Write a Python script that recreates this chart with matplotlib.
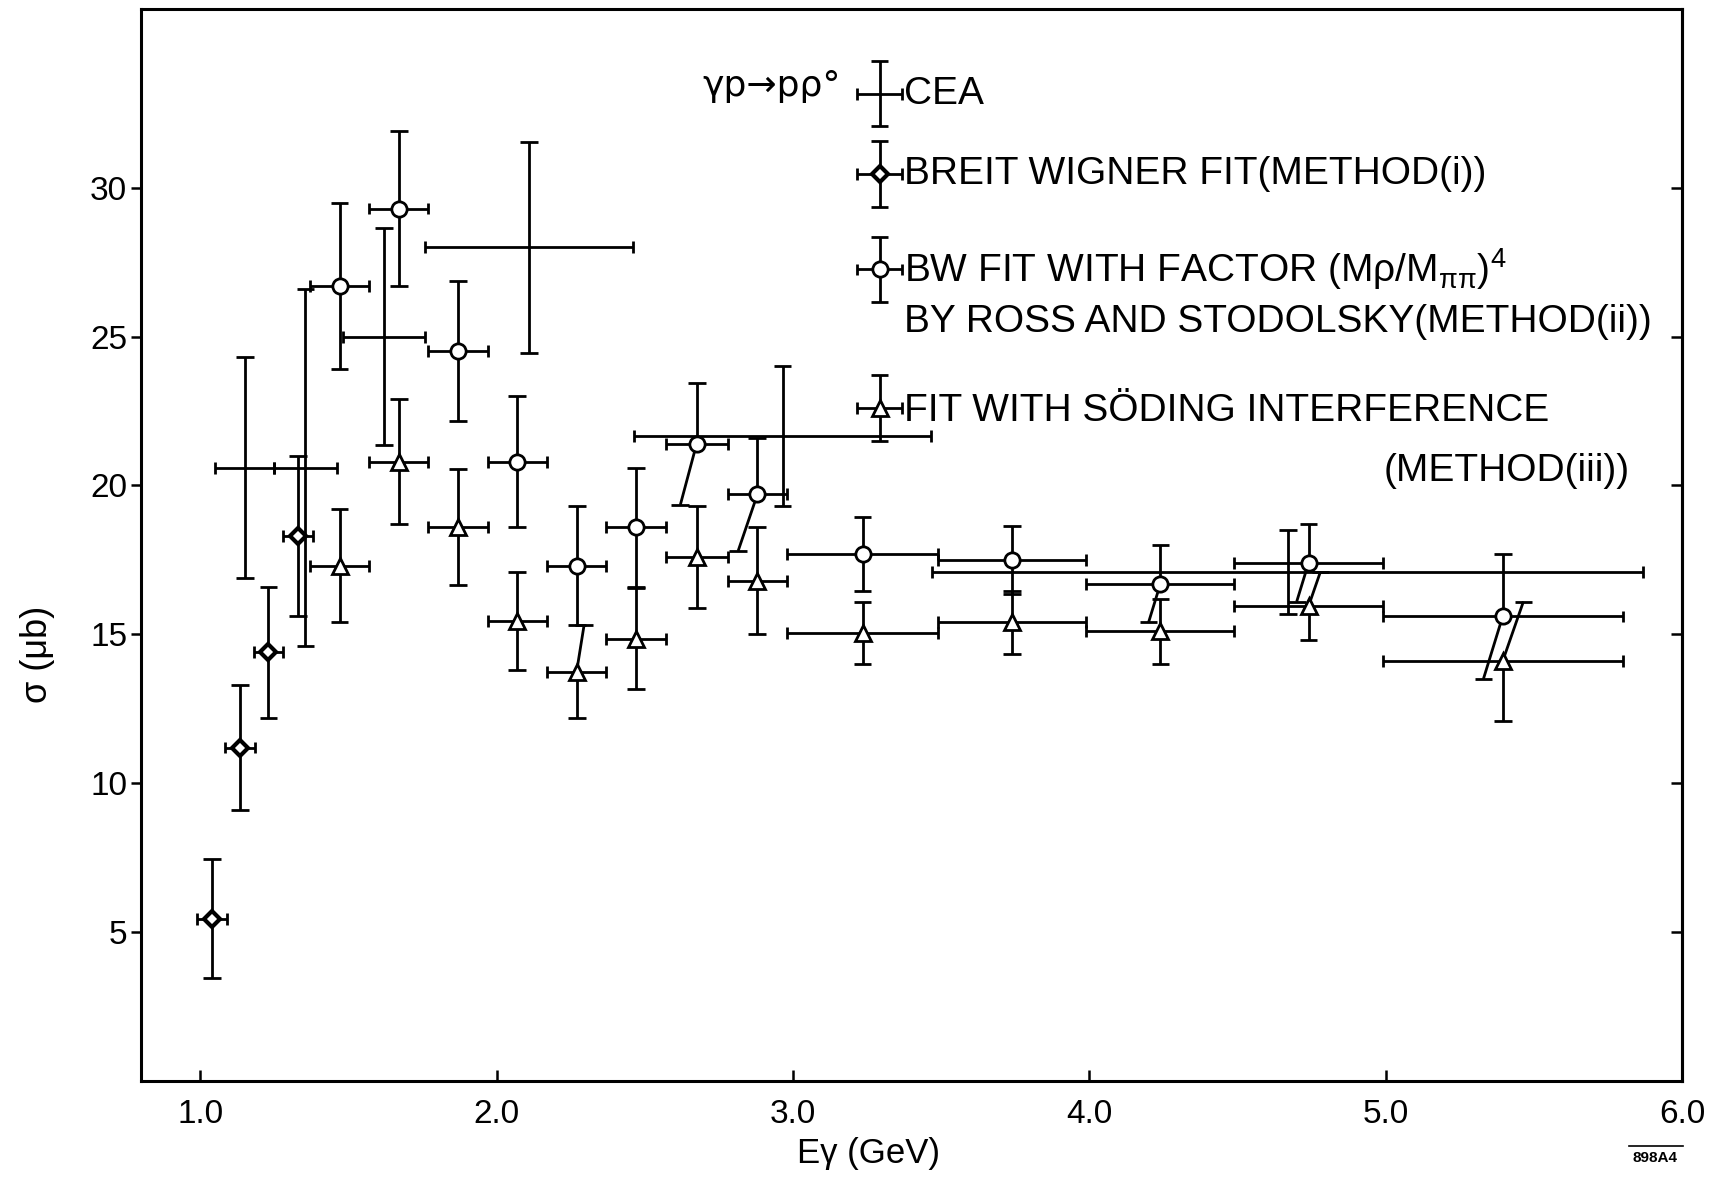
import matplotlib
matplotlib.use("Agg")
import matplotlib.pyplot as plt
from matplotlib.collections import LineCollection
from matplotlib.lines import Line2D
from matplotlib import font_manager

# ---------------- data ----------------
# CEA points (crosses without markers)
cea_x = [1.15, 1.355, 1.62, 2.11, 2.965, 4.67]
cea_xerr = [0.10, 0.105, 0.14, 0.35, 0.50, 1.20]
cea_y = [20.6, 20.6, 25.0, 28.0, 21.65, 17.1]
cea_yerr = [3.7, 6.0, 3.65, 3.55, 2.35, 1.4]

# Breit-Wigner fit, method (i)
bw_x = [1.04, 1.135, 1.23, 1.33]
bw_xerr = [0.05, 0.05, 0.05, 0.05]
bw_y = [5.45, 11.2, 14.4, 18.3]
bw_yerr = [2.0, 2.1, 2.2, 2.7]

# energy bins shared by methods (ii) and (iii)
bin_x = [1.47, 1.67, 1.87, 2.07, 2.27, 2.47, 2.675, 2.88, 3.235, 3.74, 4.24, 4.74, 5.395]
bin_xerr = [0.10, 0.10, 0.10, 0.10, 0.10, 0.10, 0.105, 0.10, 0.255, 0.25, 0.25, 0.25, 0.405]

# BW fit with factor (M_rho/M_pipi)^4, Ross-Stodolsky, method (ii)
rs_y = [26.7, 29.3, 24.5, 20.8, 17.3, 18.6, 21.4, 19.7, 17.7, 17.5, 16.7, 17.4, 15.6]
rs_yerr = [2.8, 2.6, 2.35, 2.2, 2.0, 2.0, 2.05, 1.9, 1.25, 1.15, 1.3, 1.3, 2.1]

# Fit with Soding interference, method (iii)
sod_y = [17.3, 20.8, 18.6, 15.45, 13.75, 14.85, 17.6, 16.8, 15.05, 15.4, 15.1, 15.95, 14.1]
sod_yerr = [1.9, 2.1, 1.95, 1.65, 1.55, 1.7, 1.7, 1.8, 1.05, 1.07, 1.1, 1.15, 2.0]

xticks = [1.0, 2.0, 3.0, 4.0, 5.0, 6.0]
xtick_labels = ["1.0", "2.0", "3.0", "4.0", "5.0", "6.0"]
yticks = [5, 10, 15, 20, 25, 30]
ytick_labels = ["5", "10", "15", "20", "25", "30"]

# ---------------- style ----------------
# slanted error-bar drawing offsets (index -> horizontal shift of bar end), as in the original drawing
rs_lo_slant = {6: -0.055, 7: -0.065, 10: -0.04, 11: -0.04, 12: -0.065}
sod_hi_slant = {4: 0.025, 11: 0.04, 12: 0.07}

avail = {f.name for f in font_manager.fontManager.ttflist}
REG = ["Liberation Sans", "DejaVu Sans"]
NARROW = ["Liberation Sans Narrow", "Liberation Sans", "DejaVu Sans"] if "Liberation Sans Narrow" in avail else ["Liberation Sans", "DejaVu Sans"]

plt.rcParams["font.family"] = REG
plt.rcParams["mathtext.fontset"] = "custom"
plt.rcParams["mathtext.rm"] = "Liberation Sans"
plt.rcParams["mathtext.it"] = "Liberation Sans"
plt.rcParams["mathtext.default"] = "regular"

LW = 2.0
CAPX = 0.03
CAPY = 0.2


def bar_segments(x, y, xerr, yerr, lo_slant=None, hi_slant=None, capx=CAPX, capy=CAPY):
    lo_slant = lo_slant or {}
    hi_slant = hi_slant or {}
    segs = []
    for i in range(len(x)):
        xi, yi, xe, ye = x[i], y[i], xerr[i], yerr[i]
        segs.append([(xi - xe, yi), (xi + xe, yi)])
        for xend in (xi - xe, xi + xe):
            segs.append([(xend, yi - capy), (xend, yi + capy)])
        xl, yl = xi + lo_slant.get(i, 0.0), yi - ye
        xh, yh = xi + hi_slant.get(i, 0.0), yi + ye
        segs.append([(xi, yi), (xl, yl)])
        segs.append([(xi, yi), (xh, yh)])
        segs.append([(xl - capx, yl), (xl + capx, yl)])
        segs.append([(xh - capx, yh), (xh + capx, yh)])
    return segs


W, H, DPI = 1724, 1182, 100
fig = plt.figure(figsize=(W / DPI, H / DPI), dpi=DPI)
fig.patch.set_facecolor("white")
ax = fig.add_axes([0.0818, 0.0854, 0.8938, 0.907])
ax.set_xlim(0.8, 6.0)
ax.set_ylim(0, 36)

# error bars
for sx, sy, sxe, sye, lo, hi in [
    (cea_x, cea_y, cea_xerr, cea_yerr, None, None),
    (bw_x, bw_y, bw_xerr, bw_yerr, None, None),
    (bin_x, rs_y, bin_xerr, rs_yerr, rs_lo_slant, None),
    (bin_x, sod_y, bin_xerr, sod_yerr, None, sod_hi_slant),
]:
    ax.add_collection(LineCollection(bar_segments(sx, sy, sxe, sye, lo_slant=lo, hi_slant=hi),
                                     colors="black", linewidths=LW, zorder=2))

# markers
mk_bw = dict(marker="D", ms=8, mfc="white", mec="black", mew=3.0, ls="none", zorder=4)
mk_rs = dict(marker="o", ms=11, mfc="white", mec="black", mew=2.0, ls="none", zorder=4)
mk_sod = dict(marker="^", ms=12, mfc="white", mec="black", mew=2.0, ls="none", zorder=4)
ax.plot(bw_x, bw_y, **mk_bw)
ax.plot(bin_x, rs_y, **mk_rs)
ax.plot(bin_x, sod_y, **mk_sod)

# ---------------- legend (hand drawn, like the original) ----------------
x0, x1 = ax.get_xlim()
y0, y1 = ax.get_ylim()


def a2d(fx, fy):
    return x0 + fx * (x1 - x0), y0 + fy * (y1 - y0)


leg_fx = 0.4793
leg_rows = [0.921, 0.846, 0.757, 0.628]
leg_styles = [None, mk_bw, mk_rs, mk_sod]
for fy, st in zip(leg_rows, leg_styles):
    lx, ly = a2d(leg_fx, fy)
    ax.add_collection(LineCollection(bar_segments([lx], [ly], [0.075], [1.1]),
                                     colors="black", linewidths=LW, zorder=2))
    if st is not None:
        ax.plot([lx], [ly], **st)

TFS = 28
tx = 0.495
ax.text(tx, 0.921, "CEA", transform=ax.transAxes, fontsize=TFS, va="center", ha="left")
ax.text(tx, 0.846, "BREIT WIGNER FIT(METHOD(i))", transform=ax.transAxes, fontsize=TFS, va="center", ha="left")
ax.text(tx, 0.757, r"BW FIT WITH FACTOR (M$\rho$/M$_{\pi\pi}$)$^{4}$", transform=ax.transAxes,
        fontsize=TFS, va="center", ha="left")
ax.text(tx, 0.708, "BY ROSS AND STODOLSKY(METHOD(ii))", transform=ax.transAxes, fontsize=TFS, va="center", ha="left")
ax.text(tx, 0.625, "FIT WITH SÖDING INTERFERENCE", transform=ax.transAxes, fontsize=TFS, va="center", ha="left")
ax.text(0.966, 0.569, "(METHOD(iii))", transform=ax.transAxes, fontsize=TFS, va="center", ha="right")
ax.text(0.4544, 0.928, "γp→pρ°", transform=ax.transAxes, fontsize=26, va="center", ha="right",
        family=["DejaVu Sans"])

# ---------------- axes styling ----------------
for sp in ax.spines.values():
    sp.set_linewidth(2.2)

ax.set_xticks(xticks)
ax.set_xticklabels(xtick_labels, family=NARROW, fontsize=24)
ax.set_yticks(yticks)
ax.set_yticklabels(ytick_labels, family=REG, fontsize=24)
ax.tick_params(axis="x", direction="in", length=8, width=1.8, pad=13)
ax.tick_params(axis="y", direction="out", length=7, width=1.8, pad=3)

sec = ax.secondary_yaxis("right")
sec.set_yticks(yticks)
sec.tick_params(axis="y", direction="in", length=8, width=1.8, labelright=False)
sec.spines["right"].set_linewidth(2.2)

fig.text(0.0215, 0.446, "σ (μb)", rotation=90, fontsize=26, ha="center", va="center", family=REG)
fig.text(0.5035, 0.0237, "Eγ (GeV)", fontsize=25, ha="center", va="center", family=NARROW)
fig.text(0.96, 0.020, "898A4", fontsize=11, fontweight="bold", ha="center", va="center", family=REG)
fig.add_artist(Line2D([0.945, 0.976], [0.0305, 0.0305], transform=fig.transFigure, color="black", lw=1.2))

fig.savefig("out.png", dpi=DPI, facecolor="white")
